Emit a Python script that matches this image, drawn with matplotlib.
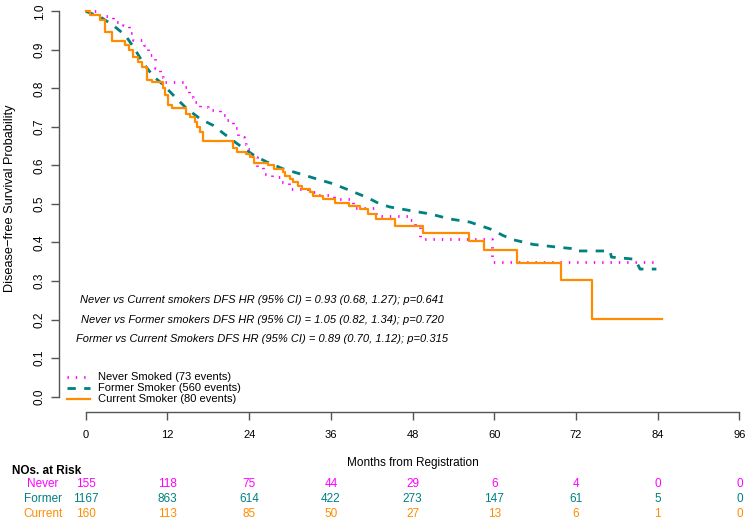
import matplotlib
matplotlib.use('Agg')
import matplotlib.pyplot as plt
from matplotlib.transforms import blended_transform_factory

plt.rcParams['font.family'] = ['Liberation Sans', 'DejaVu Sans']

# step curves (months, survival)
never_t = [0, 1.6, 2.8, 4.0, 5.5, 6.3, 7.0, 8.5, 9.2, 10.2, 10.9, 11.4, 14.6, 15.1, 15.8,
           16.8, 18.0, 19.7, 20.7, 21.7, 22.4, 23.2, 23.6, 24.4, 25.1, 26.1, 27.3, 28.5,
           29.8, 32.7, 33.9, 36.4, 39.3, 42.7, 47.6, 48.4, 49.1, 59.6, 83.6]
never_s = [1.0, 0.99, 0.988, 0.973, 0.964, 0.943, 0.925, 0.912, 0.886, 0.852, 0.830, 0.817,
           0.804, 0.778, 0.765, 0.752, 0.743, 0.730, 0.717, 0.696, 0.674, 0.656, 0.643, 0.622,
           0.596, 0.578, 0.569, 0.556, 0.538, 0.531, 0.523, 0.512, 0.490, 0.470, 0.459,
           0.443, 0.409, 0.350, 0.350]

former_t = [0, 2.1, 4.0, 5.8, 7.0, 8.5, 10.0, 10.9, 11.9, 13.1, 14.8, 16.8, 18.7, 21.2,
            22.9, 24.9, 26.6, 29.0, 31.5, 33.9, 36.4, 38.8, 41.3, 43.2, 44.7, 47.6, 50.6,
            53.5, 56.4, 59.4, 61.3, 62.8, 65.7, 69.2, 72.1, 72.3, 77.0, 77.2, 80.4, 80.9,
            81.4, 83.8]
former_s = [1.0, 0.986, 0.964, 0.938, 0.908, 0.864, 0.830, 0.817, 0.800, 0.778, 0.748,
            0.721, 0.704, 0.670, 0.648, 0.624, 0.609, 0.591, 0.578, 0.565, 0.552, 0.535,
            0.517, 0.500, 0.492, 0.483, 0.474, 0.461, 0.453, 0.435, 0.418, 0.407, 0.395,
            0.388, 0.383, 0.378, 0.378, 0.362, 0.357, 0.349, 0.331, 0.331]

current_t = [0, 0.6, 2.1, 2.8, 3.8, 5.8, 6.3, 7.0, 7.7, 8.2, 9.05, 9.7, 11.4, 11.7, 12.1,
             12.6, 14.8, 15.3, 16.0, 16.3, 16.8, 17.2, 21.6, 22.2, 23.6, 24.1, 24.7, 26.7,
             27.7, 29.0, 29.3, 30.0, 30.5, 31.2, 31.7, 32.9, 33.4, 34.9, 36.6, 38.6, 40.3,
             41.5, 42.7, 45.4, 49.6, 56.3, 58.5, 63.4, 69.8, 74.3, 84.6]
current_s = [1.0, 0.99, 0.977, 0.947, 0.924, 0.912, 0.899, 0.882, 0.869, 0.856, 0.821,
             0.817, 0.800, 0.783, 0.757, 0.748, 0.734, 0.725, 0.713, 0.700, 0.687, 0.663,
             0.644, 0.635, 0.629, 0.622, 0.607, 0.600, 0.591, 0.582, 0.573, 0.565, 0.556,
             0.547, 0.539, 0.530, 0.521, 0.512, 0.503, 0.494, 0.488, 0.475, 0.460, 0.444,
             0.425, 0.405, 0.381, 0.346, 0.303, 0.201, 0.201]

legend_labels = ['Never Smoked (73 events)', 'Former Smoker (560 events)',
                 'Current Smoker (80 events)']
hr_texts = ['Never vs Current smokers DFS HR (95% CI) = 0.93 (0.68, 1.27); p=0.641',
            'Never vs Former smokers DFS HR (95% CI) = 1.05 (0.82, 1.34); p=0.720',
            'Former vs Current Smokers DFS HR (95% CI) = 0.89 (0.70, 1.12); p=0.315']

risk_times = [0, 12, 24, 36, 48, 60, 72, 84, 96]
risk_groups = ['Never', 'Former', 'Current']
risk_never = [155, 118, 75, 44, 29, 6, 4, 0, 0]
risk_former = [1167, 863, 614, 422, 273, 147, 61, 5, 0]
risk_current = [160, 113, 85, 50, 27, 13, 6, 1, 0]

c_never = '#ff00ff'
c_former = '#008080'
c_current = '#ff8c00'
axis_col = '#555555'
dotted = (0, (0.5, 2.5))
dashed = (0, (3, 3))

W, H = 750, 522
fig = plt.figure(figsize=(W / 100, H / 100), dpi=100)
# axes in pixel terms: left at 59px, bottom at 412px, top at 0
ax = fig.add_axes([59 / W, (H - 412) / H, (W - 59) / W, 412 / H])
px_per_month = 6.81
ax.set_xlim(-(85.7 - 59) / px_per_month, (W - 85.7) / px_per_month)
ax.set_ylim(-0.04, 395.7 / 384.4)

ax.step(never_t, never_s, where='post', color=c_never, lw=2, linestyle=dotted)
# the former-smoker curve has so many events that its steps read as a slope
ax.plot(former_t, former_s, color=c_former, lw=2, linestyle=dashed)
ax.step(current_t, current_s, where='post', color=c_current, lw=1.6)

for spine in ['top', 'right']:
    ax.spines[spine].set_visible(False)
ax.spines['left'].set_bounds(0, 1)
ax.spines['bottom'].set_bounds(0, 96)
for spine in ['left', 'bottom']:
    ax.spines[spine].set_color(axis_col)
    ax.spines[spine].set_linewidth(1.0)

ax.set_xticks(risk_times)
ax.set_xticklabels([str(t) for t in risk_times])
ax.set_yticks([i / 10 for i in range(11)])
ax.set_yticklabels(['%.1f' % (i / 10) for i in range(11)], rotation=90, va='center')
ax.tick_params(axis='both', colors=axis_col, labelcolor='black',
               length=6, width=1.0)
ax.tick_params(axis='x', pad=7, labelsize=8)
ax.tick_params(axis='y', pad=3.5, labelsize=8.5)

fig.text(10 / W, 1 - 198 / H, 'Disease\u2212free Survival Probability', rotation=90,
         ha='center', va='center', fontsize=9.2)

# hazard ratio notes
for txt, yv in zip(hr_texts, [0.25, 0.20, 0.15]):
    ax.text(25.9, yv, txt, ha='center', va='center', style='italic', fontsize=8)

# legend drawn by hand (R style, no box)
leg_colors = [c_never, c_former, c_current]
leg_styles = [dotted, dashed, '-']
leg_y = [376.7, 387.8, 399.3]
for lab, col, ls, ypx in zip(legend_labels, leg_colors, leg_styles, leg_y):
    yf = 1 - ypx / H
    fig.add_artist(plt.Line2D([66.7 / W, 90 / W], [yf, yf], color=col,
                              lw=2 if ls != '-' else 1.6, linestyle=ls,
                              transform=fig.transFigure))
    fig.text(98 / W, yf, lab, ha='left', va='center', fontsize=8)

fig.text(413 / W, 1 - 463 / H, 'Months from Registration', ha='center', va='center',
         fontsize=8.5)
fig.text(12 / W, 1 - 471 / H, 'NOs. at Risk', ha='left', va='center', fontsize=8.5,
         fontweight='bold')

trans = blended_transform_factory(ax.transData, fig.transFigure)
rows = [risk_never, risk_former, risk_current]
row_y = [484, 499, 514]
for grp, vals, col, ypx in zip(risk_groups, rows, leg_colors, row_y):
    yf = 1 - ypx / H
    fig.text(43 / W, yf, grp, ha='center', va='center', fontsize=8.5, color=col)
    for t, v in zip(risk_times, vals):
        ax.text(t, yf, str(v), transform=trans, ha='center', va='center', fontsize=8.5,
                color=col, clip_on=False)

fig.savefig('out.png', dpi=100)
